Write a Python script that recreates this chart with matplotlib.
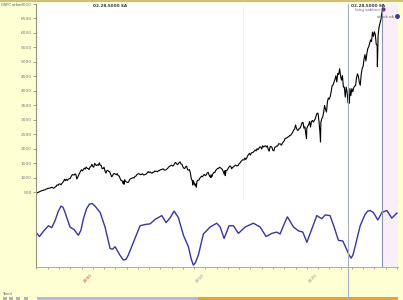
# S&P 500 style chart with a cycle oscillator below

import numpy as np
import matplotlib.pyplot as plt
from matplotlib.patches import Rectangle

# ------------------#
# Data
# ------------------#

start_year = 1995
spx_monthly = [
    470, 487, 500, 515, 533, 545, 562, 562, 584, 582, 605, 616,
    636, 640, 645, 654, 669, 671, 640, 652, 687, 705, 757, 741,
    786, 791, 757, 801, 848, 885, 954, 899, 947, 915, 955, 970,
    980, 1049, 1102, 1112, 1091, 1134, 1121, 957, 1017, 1099, 1164, 1229,
    1280, 1238, 1286, 1335, 1302, 1373, 1329, 1320, 1283, 1363, 1389, 1469,
    1394, 1366, 1499, 1452, 1421, 1455, 1431, 1518, 1437, 1429, 1315, 1320,
    1366, 1240, 1160, 1249, 1256, 1224, 1211, 1134, 1041, 1060, 1139, 1148,
    1130, 1107, 1147, 1076, 1067, 990, 912, 916, 815, 886, 936, 880,
    856, 841, 848, 917, 964, 975, 990, 1008, 996, 1051, 1058, 1112,
    1131, 1145, 1126, 1107, 1121, 1141, 1102, 1104, 1115, 1130, 1174, 1212,
    1181, 1204, 1181, 1157, 1192, 1191, 1234, 1220, 1229, 1207, 1249, 1248,
    1280, 1281, 1295, 1311, 1270, 1270, 1277, 1304, 1336, 1378, 1401, 1418,
    1438, 1407, 1421, 1482, 1531, 1503, 1455, 1474, 1527, 1549, 1481, 1468,
    1379, 1331, 1323, 1386, 1400, 1280, 1267, 1283, 1165, 969, 896, 903,
    826, 735, 798, 873, 919, 919, 987, 1021, 1057, 1036, 1096, 1115,
    1074, 1104, 1169, 1187, 1089, 1031, 1102, 1049, 1141, 1183, 1181, 1258,
    1286, 1327, 1326, 1364, 1345, 1321, 1292, 1219, 1131, 1253, 1247, 1258,
    1312, 1366, 1408, 1398, 1310, 1362, 1379, 1407, 1441, 1412, 1416, 1426,
    1498, 1515, 1569, 1598, 1631, 1606, 1686, 1633, 1682, 1757, 1806, 1848,
    1783, 1859, 1872, 1884, 1924, 1960, 1931, 2003, 1972, 2018, 2068, 2059,
    1995, 2105, 2068, 2086, 2107, 2063, 2104, 1972, 1920, 2079, 2080, 2044,
    1940, 1932, 2060, 2065, 2097, 2099, 2174, 2171, 2168, 2126, 2199, 2239,
    2279, 2364, 2363, 2384, 2412, 2423, 2470, 2472, 2519, 2575, 2648, 2674,
    2824, 2714, 2641, 2648, 2705, 2718, 2816, 2902, 2914, 2712, 2760, 2507,
    2704, 2784, 2834, 2946, 2752, 2942, 2980, 2926, 2977, 3038, 3141, 3231,
    3226, 2954, 2585, 2912, 3044, 3100, 3271, 3500, 3363, 3270, 3622, 3756,
    3714, 3811, 3973, 4181, 4204, 4298, 4395, 4523, 4308, 4605, 4567, 4766,
    4516, 4374, 4530, 4132, 4132, 3785, 4130, 3955, 3586, 3872, 4080, 3840,
    4077, 3970, 4109, 4169, 4180, 4450, 4589, 4508, 4288, 4194, 4568, 4770,
    4846, 5096, 5254, 5036, 5278, 5460, 5522, 5648, 5762, 5705, 6032, 5882,
    6041, 5955, 5612, 5569, 5912, 6205, 6339, 6460, 6688, 6840,
]

# sharp intramonth lows that show up as spikes on the chart
low_dates = [2002.78, 2008.88, 2009.19, 2010.50, 2011.76, 2018.98, 2020.22, 2022.78, 2025.27]
low_values = [777, 752, 676, 1011, 1075, 2351, 2237, 3577, 4835]

osc_dates = [
    1994.96, 1995.26, 1995.66, 1996.06, 1996.36, 1996.65, 1996.92, 1997.18,
    1997.36, 1997.54, 1997.98, 1998.34, 1998.72, 1998.95, 1999.17, 1999.45,
    1999.70, 1999.95, 2000.20, 2000.65, 2001.09, 2001.54, 2001.76, 2001.98,
    2002.40, 2002.72, 2002.95, 2003.16, 2003.61, 2004.20, 2004.65, 2005.09,
    2005.53, 2006.13, 2006.51, 2006.85, 2007.22, 2007.60, 2008.05, 2008.49,
    2008.75, 2008.93, 2009.12, 2009.38, 2009.82, 2010.42, 2011.01, 2011.31,
    2011.66, 2012.10, 2012.49, 2012.93, 2013.53, 2014.26, 2014.86, 2015.39,
    2015.90, 2016.34, 2016.63, 2017.00, 2017.28, 2017.82, 2018.26, 2018.65,
    2019.01, 2019.45, 2019.89, 2020.34, 2020.63, 2021.07, 2021.43, 2021.81,
    2022.20, 2022.56, 2022.78, 2022.94, 2023.10, 2023.29, 2023.74, 2024.18,
    2024.40, 2024.62, 2024.91, 2025.31, 2025.67, 2026.11, 2026.55, 2027.00,
]
osc_values = [
    53, 46, 55, 63, 60, 71, 85, 94,
    92, 84, 61, 57, 48, 56, 74, 90,
    97, 98, 94, 84, 61, 27, 26, 30,
    17, 9, 10, 17, 37, 63, 65, 66,
    73, 79, 68, 75, 86, 76, 48, 30,
    10, 1, 5, 17, 50, 61, 67, 61,
    43, 63, 63, 51, 61, 67, 61, 46,
    51, 53, 50, 66, 77, 61, 55, 53,
    37, 58, 79, 74, 80, 79, 61, 40,
    39, 25, 16, 12, 17, 30, 63, 81,
    86, 87, 84, 72, 84, 87, 75, 83,
]

y_ticks = [500, 1000, 1500, 2000, 2500, 3000, 3500, 4000, 4500, 5000, 5500, 6000, 6500, 7000]
x_label_years = [2000, 2010, 2020]
x_label_colors = ['#b8452a', '#8a8a8a', '#8a8a8a']

x_min, x_max = 1994.96, 2027.1
future_start = 2025.67
marker_line = 2022.68
faint_line = 2013.35

if __name__ == '__main__':

    bg = '#ffffd4'
    fig = plt.figure(figsize=(4.03, 3.0), dpi=100, facecolor=bg)

    # price series: monthly closes plus the spike lows
    dates = np.concatenate([start_year + np.arange(len(spx_monthly)) / 12, low_dates])
    prices = np.concatenate([spx_monthly, low_values])
    order = np.argsort(dates)

    ax = fig.add_axes([36/403, 99/300, 362/403, 197/300])
    ax.axvspan(future_start, x_max, color='#fbeefb', lw=0)
    ax.plot(dates[order], prices[order], color='black', lw=0.8)
    ax.axvline(marker_line, color='#a9b0bd', lw=0.8)
    ax.axvline(future_start, color='#8a95aa', lw=0.8)
    ax.axvline(faint_line, color='#f0c8c8', lw=0.5, ls=':')
    ax.set_xlim(x_min, x_max)
    ax.set_ylim(200, 7000)
    ax.set_yticks(y_ticks)
    ax.set_yticklabels([str(v) for v in y_ticks])
    ax.tick_params(axis='y', labelsize=3.2, colors='#7a7a7a', length=2, width=0.5, pad=1)
    ax.set_xticks([])
    for s in ['top', 'right']:
        ax.spines[s].set_visible(False)
    ax.spines['left'].set_color('#9a9078')
    ax.spines['left'].set_linewidth(0.8)
    ax.spines['bottom'].set_color('#d0d0d0')
    ax.spines['bottom'].set_linewidth(0.6)

    # header texts
    fig.text(1/403, 1 - 2.5/300, 'GSPC other', fontsize=2.6, color='#555555', va='top')
    ax.text(2000.0, 6990, '02.28.5000 SA', fontsize=3, color='#333333', va='top',
            fontweight='bold')
    ax.text(2022.9, 6990, '02.28.5000 SA', fontsize=3, color='#333333', va='top',
            fontweight='bold')
    ax.text(2025.5, 6800, 'long sabhen', fontsize=3, color='#7a5aa8', ha='right', va='center')
    ax.plot([2025.75], [6820], 'o', ms=2, color='#5a3a90', clip_on=False)
    ax.text(2025.2, 6560, 'stock ok', fontsize=3, color='#555555', va='center')
    ax.plot([2027.05], [6600], 'o', ms=2.5, color='#3a3a90', clip_on=False)

    # oscillator panel
    ax2 = fig.add_axes([36/403, 33/300, 362/403, 66/300])
    ax2.axvspan(future_start, x_max, color='#fbeefb', lw=0)
    ax2.plot(osc_dates, osc_values, color='#3535a5', lw=1.0, solid_joinstyle='round')
    ax2.axvline(marker_line, color='#a9b0bd', lw=0.8)
    ax2.axvline(future_start, color='#8a95aa', lw=0.8)
    ax2.set_xlim(x_min, x_max)
    ax2.set_ylim(-2, 102)
    ax2.set_yticks([])
    ax2.set_xticks(np.arange(1995, 2028), minor=True)
    ax2.set_xticks(x_label_years)
    ax2.set_xticklabels([str(y) for y in x_label_years], rotation=45, ha='right',
                        va='top', fontsize=3.2)
    ax2.tick_params(axis='x', which='both', length=1.5, width=0.5, colors='#888888', pad=3)
    for lbl, c in zip(ax2.get_xticklabels(), x_label_colors):
        lbl.set_color(c)
    for s in ['top', 'right']:
        ax2.spines[s].set_visible(False)
    ax2.spines['left'].set_color('#9a9078')
    ax2.spines['left'].set_linewidth(0.8)
    ax2.spines['bottom'].set_color('#a0a0a0')
    ax2.spines['bottom'].set_linewidth(0.6)

    # vertical marker continues through the label area
    fig.add_artist(plt.Line2D([348/403, 348/403], [0, 33/300], color='#a9b0bd', lw=0.8))

    # top bar and bottom scroll bar
    fig.add_artist(Rectangle((0, 298/300), 1, 2/300, color='#cfc07c', lw=0))
    fig.add_artist(Rectangle((37/403, 0), 161/403, 3/300, color='#b9b8e2', lw=0))
    fig.add_artist(Rectangle((198/403, 0), 200/403, 3/300, color='#e3a23a', lw=0))
    for xb in [3, 9, 16, 24]:
        fig.add_artist(Rectangle((xb/403, 0), 4/403, 3/300, color='#b0b0b0', lw=0))
    fig.text(2/403, 5/300, 'Trend', fontsize=2.5, color='#555555')

    plt.savefig('out.png', dpi=100, facecolor=bg)
